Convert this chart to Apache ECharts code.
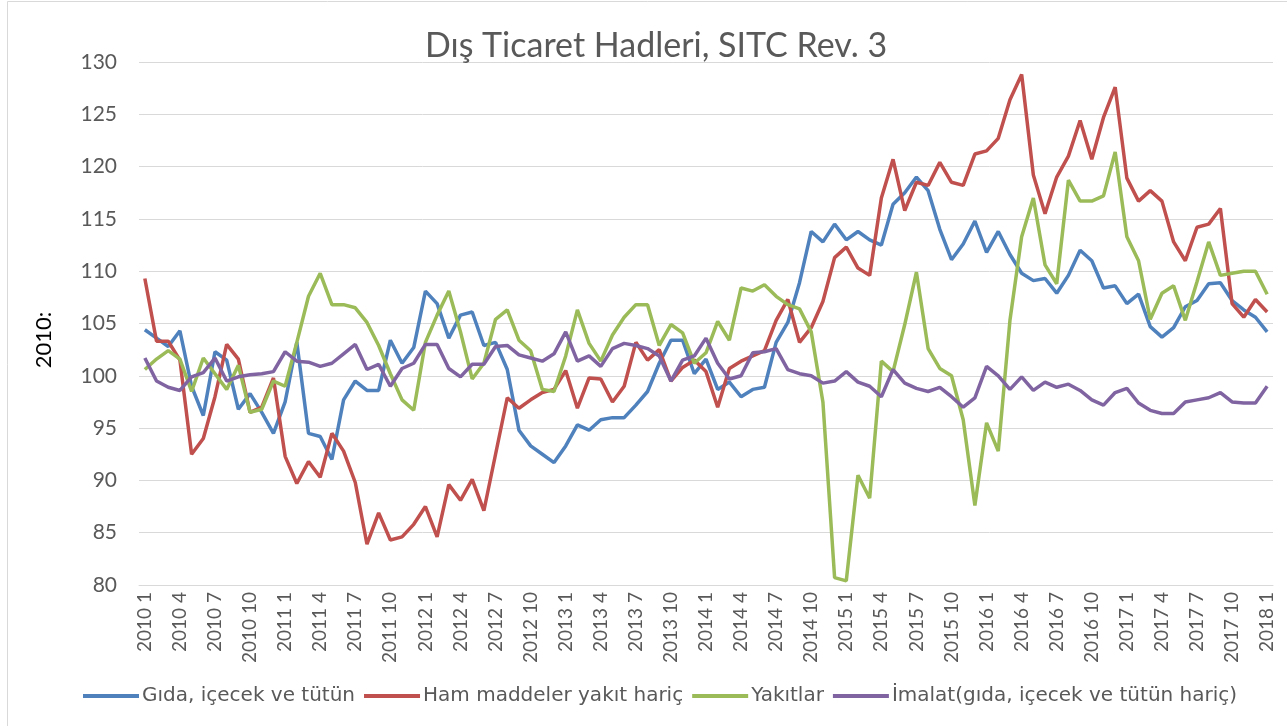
<html style="height: 100%">
<head>
	<meta charset="utf-8">
	<script type="text/javascript" src="https://cdn.jsdelivr.net/npm/echarts@6/dist/echarts.min.js"></script>
</head>

<body style="height: 100%; margin: 0">
	<div id="container" style="height:726px;width:1287px"></div>
</body>

<script type="text/javascript">
	var dom = document.getElementById("container");
	var myChart = echarts.init(dom);

	// aylar: 2010 1 .. 2018 1
	let years = [2010, 2011, 2012, 2013, 2014, 2015, 2016, 2017, 2018]
	let months = [1, 2, 3, 4, 5, 6, 7, 8, 9, 10, 11, 12]
	let categories = []
	years.forEach(y => months.forEach(m => {
		if (y < 2018 || m == 1) categories.push(y + " " + m)
	}))

	let seriesNames = ['Gıda, içecek ve tütün', 'Ham maddeler yakıt hariç', 'Yakıtlar', 'İmalat(gıda, içecek ve tütün hariç)']
	let colors = ['#4F81BD', '#C0504D', '#9BBB59', '#8064A2']

	let gida = [104.4, 103.6, 102.8, 104.3, 99.0, 96.2, 102.3, 101.5, 96.8, 98.3, 96.5, 94.5,
		97.5, 103.2, 94.5, 94.2, 92.0, 97.7, 99.5, 98.6, 98.6, 103.4, 101.2, 102.7,
		108.1, 106.9, 103.6, 105.8, 106.1, 102.9, 103.2, 100.6, 94.8, 93.3, 92.5, 91.7,
		93.3, 95.3, 94.8, 95.8, 96.0, 96.0, 97.2, 98.5, 101.2, 103.4, 103.4, 100.2,
		101.6, 98.7, 99.4, 98.0, 98.7, 98.9, 103.2, 105.1, 108.9, 113.8, 112.8, 114.5,
		113.0, 113.8, 113.0, 112.5, 116.4, 117.5, 119.0, 117.7, 114.0, 111.1, 112.6, 114.8,
		111.8, 113.8, 111.6, 109.8, 109.1, 109.3, 107.9, 109.6, 112.0, 111.0, 108.4, 108.6,
		106.9, 107.8, 104.7, 103.7, 104.6, 106.6, 107.2, 108.8, 108.9, 107.2, 106.3, 105.6,
		104.2]
	let hamMadde = [109.3, 103.3, 103.3, 101.5, 92.5, 94.0, 98.0, 103.0, 101.6, 96.5, 97.0, 99.8,
		92.3, 89.7, 91.8, 90.3, 94.5, 92.8, 89.8, 83.9, 86.9, 84.3, 84.6, 85.8,
		87.5, 84.6, 89.6, 88.1, 90.1, 87.1, 92.5, 97.9, 96.9, 97.7, 98.4, 98.7,
		100.5, 96.9, 99.8, 99.7, 97.5, 99.0, 103.2, 101.5, 102.5, 99.5, 100.8, 101.5,
		100.4, 97.0, 100.7, 101.4, 101.9, 102.4, 105.3, 107.3, 103.2, 104.6, 107.1, 111.3,
		112.3, 110.3, 109.6, 117.0, 120.7, 115.8, 118.5, 118.2, 120.4, 118.5, 118.2, 121.2,
		121.5, 122.7, 126.4, 128.8, 119.2, 115.5, 119.0, 121.0, 124.4, 120.7, 124.7, 127.6,
		118.9, 116.7, 117.7, 116.7, 112.8, 111.0, 114.2, 114.5, 116.0, 106.9, 105.6, 107.3,
		106.1]
	let yakit = [100.6, 101.6, 102.4, 101.6, 98.5, 101.7, 100.2, 98.7, 101.0, 96.5, 96.8, 99.5,
		99.0, 103.2, 107.6, 109.8, 106.8, 106.8, 106.5, 105.1, 102.9, 100.2, 97.7, 96.7,
		103.2, 105.8, 108.1, 104.2, 99.7, 101.2, 105.4, 106.3, 103.4, 102.4, 98.7, 98.5,
		101.9, 106.3, 103.1, 101.4, 103.9, 105.6, 106.8, 106.8, 102.9, 104.9, 104.1, 101.2,
		102.2, 105.2, 103.4, 108.4, 108.1, 108.7, 107.6, 106.8, 106.4, 104.2, 97.5, 80.7,
		80.4, 90.5, 88.3, 101.4, 100.4, 104.9, 109.9, 102.6, 100.7, 100.0, 95.8, 87.6,
		95.5, 92.8, 105.3, 113.3, 117.0, 110.6, 108.8, 118.7, 116.7, 116.7, 117.2, 121.4,
		113.3, 111.0, 105.4, 107.9, 108.6, 105.3, 109.0, 112.8, 109.6, 109.8, 110.0, 110.0,
		107.8]
	let imalat = [101.7, 99.5, 98.9, 98.6, 99.9, 100.3, 101.7, 99.5, 99.9, 100.1, 100.2, 100.4,
		102.3, 101.4, 101.3, 100.9, 101.2, 102.1, 103.0, 100.6, 101.1, 99.0, 100.7, 101.2,
		103.0, 103.0, 100.7, 99.9, 101.1, 101.1, 102.8, 102.9, 102.0, 101.7, 101.4, 102.1,
		104.2, 101.4, 101.9, 100.9, 102.6, 103.1, 102.9, 102.6, 101.9, 99.5, 101.5, 101.9,
		103.6, 101.2, 99.7, 100.0, 102.2, 102.3, 102.6, 100.6, 100.2, 100.0, 99.3, 99.5,
		100.4, 99.4, 99.0, 98.0, 100.6, 99.3, 98.8, 98.5, 98.9, 98.0, 97.0, 97.9,
		100.9, 100.0, 98.7, 99.9, 98.6, 99.4, 98.9, 99.2, 98.6, 97.7, 97.2, 98.4,
		98.8, 97.4, 96.7, 96.4, 96.4, 97.5, 97.7, 97.9, 98.4, 97.5, 97.4, 97.4,
		99.0]

	let allData = [gida, hamMadde, yakit, imalat]
	let textColor = '#595959'
	let fontName = 'Lato'

	var option = {
		animation: false,
		backgroundColor: '#fff',
		title: {
			text: 'Dış Ticaret Hadleri, SITC Rev. 3',
			left: 420,
			top: 24,
			textStyle: { fontFamily: fontName, fontSize: 34, fontWeight: 'normal', color: textColor }
		},
		legend: {
			data: seriesNames,
			left: 78,
			top: 681,
			icon: 'rect',
			itemWidth: 56,
			itemHeight: 4,
			itemGap: 9,
			textStyle: { fontFamily: 'DejaVu Sans', fontSize: 20, color: textColor, padding: [0, 0, 0, -2] }
		},
		grid: { left: 139, right: 14, top: 62, bottom: 141 },
		xAxis: {
			type: 'category',
			data: categories,
			boundaryGap: true,
			axisLine: { lineStyle: { color: '#d9d9d9' } },
			axisTick: { show: false },
			axisLabel: {
				interval: 2,
				rotate: 90,
				margin: 7,
				fontFamily: fontName,
				fontSize: 19,
				color: textColor
			}
		},
		yAxis: {
			type: 'value',
			min: 80,
			max: 130,
			interval: 5,
			axisLine: { show: false },
			axisTick: { show: false },
			splitLine: { lineStyle: { color: '#d9d9d9', width: 1 } },
			axisLabel: { margin: 22, fontFamily: fontName, fontSize: 21, color: textColor }
		},
		graphic: [
			{
				type: 'rect',
				shape: { x: 7.5, y: 1.5, width: 1300, height: 760 },
				style: { fill: 'none', stroke: '#d9d9d9', lineWidth: 1 }
			},
			{
				type: 'text',
				x: 44,
				y: 340,
				rotation: Math.PI / 2,
				style: {
					text: '2010:',
					fontFamily: fontName,
					fontSize: 22,
					fill: '#000',
					align: 'center',
					verticalAlign: 'middle'
				}
			}
		],
		series: allData.map((d, k) => ({
			name: seriesNames[k],
			type: 'line',
			data: d,
			showSymbol: false,
			symbol: 'none',
			lineStyle: { width: 3.5, color: colors[k] },
			itemStyle: { color: colors[k] }
		}))
	};

	myChart.setOption(option);
</script>

</html>
